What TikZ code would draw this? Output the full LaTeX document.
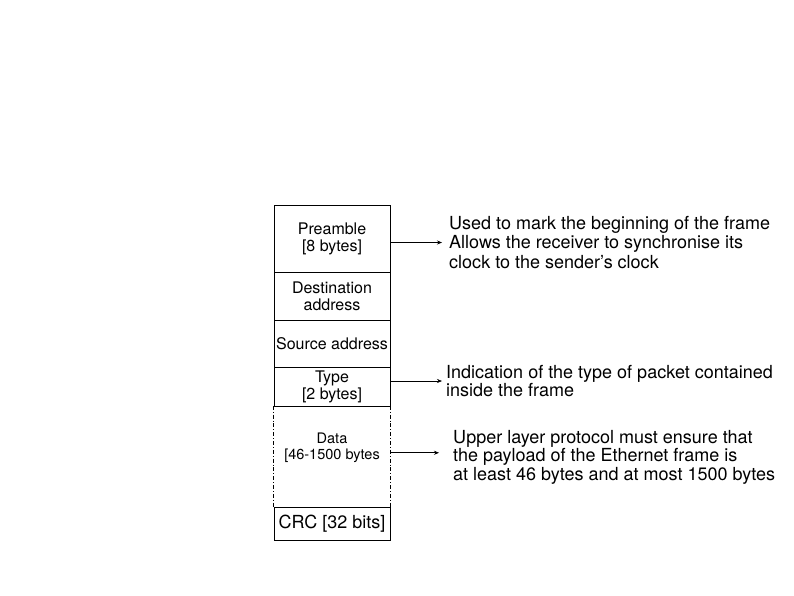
\documentclass[tikz,border=0pt]{standalone}
\usepackage{fontspec}
\setmainfont{TeX Gyre Heros}
\usepackage{tikz}
\usetikzlibrary{arrows.meta, positioning}

\begin{document}
\begin{tikzpicture}[x=1pt, y=-1pt,
  field/.style={draw, line width=0.8pt, minimum width=116pt, inner sep=0pt,
    align=center, font=\fontsize{16}{17}\selectfont},
  note/.style={anchor=west, inner sep=0pt, align=left,
    font=\fontsize{18}{18.5}\selectfont},
  e/.style={-{Stealth[length=5pt, width=4pt]}, line width=0.6pt},
  side/.style={line width=0.7pt, dash pattern=on 4pt off 2pt on 0.8pt off 2pt}]
  \useasboundingbox (0,0) rectangle (794,595);
  % the frame, top to bottom
  \node[field, minimum height=67.5pt] (pre) at (332,238.75) {Preamble\\{}[8 bytes]};
  \node[field, minimum height=47.5pt] (dst) at (332,296.25) {Destination\\address};
  \node[field, minimum height=47pt]   (src) at (332,343.5)  {Source address};
  \node[field, minimum height=39pt]   (typ) at (332,386.5)  {Type\\{}[2 bytes]};
  \node[minimum width=116pt, minimum height=101.5pt, inner sep=0pt] (dat) at (332,456.75) {};
  \node[align=center, font=\fontsize{14.5}{16.5}\selectfont] (datlbl) at ([yshift=9pt]dat.center)
    {Data\\{}[46-1500 bytes};
  \node[field, minimum height=32.5pt, font=\fontsize{18}{18}\selectfont] (crc) at (332,523.75) {CRC [32 bits]};
  \draw[side] (dat.north west) -- (dat.south west);
  \draw[side] (dat.north east) -- (dat.south east);
  % explanations
  \node[note, font=\fontsize{18}{19.5}\selectfont] (n1) at (449,242.5)
    {Used to mark the beginning of the frame\\Allows the receiver to synchronise its\\clock to the sender's clock};
  \node[note] (n2) at (446,381)
    {Indication of the type of packet contained\\inside the frame};
  \node[note] (n3) at (453,457)
    {Upper layer protocol must ensure that\\the payload of the Ethernet frame is\\at least 46 bytes and at most 1500 bytes};
  \draw[e, shorten >=7pt] (pre.east |- n1.west) -- (n1.west);
  \draw[e, shorten >=4pt] (typ.east |- n2.west) -- (n2.west);
  \draw[e, shorten >=14pt] ([yshift=4pt]dat.east) -- ([yshift=4pt]dat.east -| n3.west);
\end{tikzpicture}
\end{document}
